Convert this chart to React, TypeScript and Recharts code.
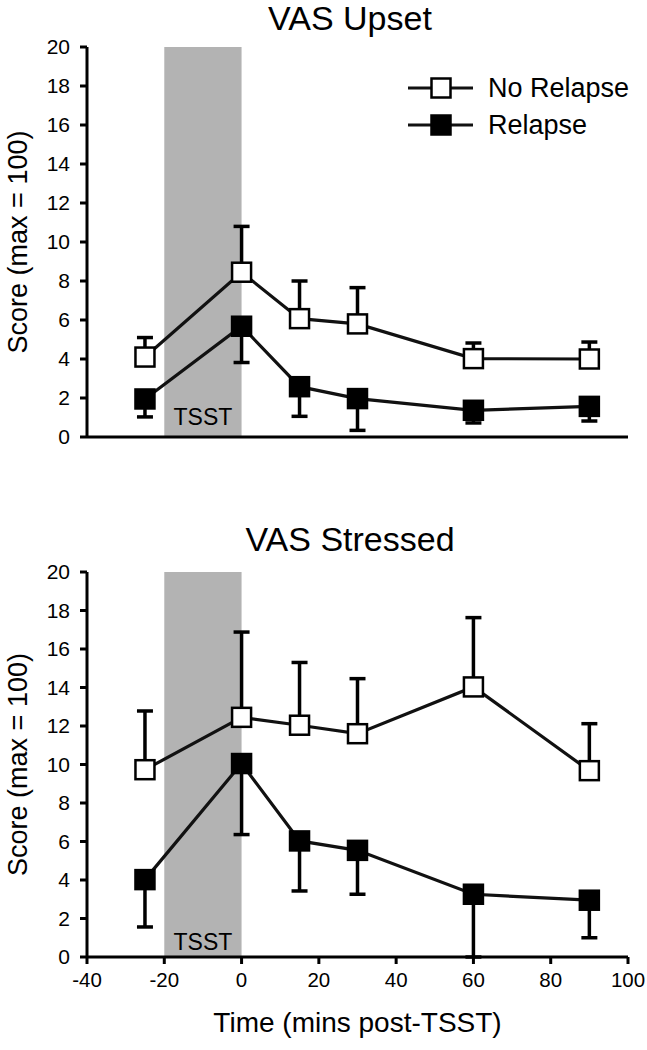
import React from 'react';
import { ComposedChart, Line, XAxis, YAxis, ErrorBar, ReferenceArea, Label, Legend } from 'recharts';

// ---- data ----
const timePoints = [-25, 0, 15, 30, 60, 90];
const xTicks = [-40, -20, 0, 20, 40, 60, 80, 100];
const yTicks = [0, 2, 4, 6, 8, 10, 12, 14, 16, 18, 20];
const seriesNames = ['No Relapse', 'Relapse'];
const seriesFills = ['#ffffff', '#000000'];
const bandStart = -20;
const bandEnd = 0;
const bandLabel = 'TSST';

const upsetNoRelapse = [4.1, 8.45, 6.07, 5.8, 4.02, 4.0];
const upsetNoRelapseErr = [1.0, 2.35, 1.93, 1.86, 0.8, 0.87];
const upsetRelapse = [1.95, 5.68, 2.58, 1.97, 1.37, 1.57];
const upsetRelapseErr = [0.92, 1.86, 1.52, 1.63, 0.65, 0.75];

const stressedNoRelapse = [9.73, 12.45, 12.04, 11.6, 14.03, 9.68];
const stressedNoRelapseErr = [3.05, 4.43, 3.26, 2.86, 3.6, 2.44];
const stressedRelapse = [4.02, 10.05, 6.03, 5.54, 3.26, 2.95];
const stressedRelapseErr = [2.46, 3.69, 2.6, 2.28, 3.26, 1.95];

const buildRows = (nr: number[], nrErr: number[], r: number[], rErr: number[]) =>
  timePoints.map((t, i) => ({
    t,
    nr: nr[i],
    nrErr: [0, nrErr[i]],
    r: r[i],
    rErr: [rErr[i], 0],
  }));

const upsetRows = buildRows(upsetNoRelapse, upsetNoRelapseErr, upsetRelapse, upsetRelapseErr);
const stressedRows = buildRows(stressedNoRelapse, stressedNoRelapseErr, stressedRelapse, stressedRelapseErr);

const FONT = '"Liberation Sans", Arial, sans-serif';

const makeDot = (fill: string) => (props: any) => {
  const { cx, cy, index } = props;
  if (cx == null || cy == null) return <g key={index} />;
  return (
    <rect key={index} x={cx - 9.5} y={cy - 9.5} width={19} height={19} fill={fill} stroke="#000" strokeWidth={2.5} />
  );
};

const LegendContent = (props: any) => {
  const payload = props.payload || [];
  return (
    <div style={{ fontFamily: FONT }}>
      {payload.map((entry: any, i: number) => {
        const idx = seriesNames.indexOf(entry.value);
        return (
          <div key={i} style={{ display: 'flex', alignItems: 'center', height: 37 }}>
            <svg width={66} height={24} style={{ display: 'block' }}>
              <line x1={0} y1={12} x2={65} y2={12} stroke="#111" strokeWidth={3.2} />
              <rect x={23.5} y={2.5} width={19} height={19} fill={seriesFills[idx]} stroke="#000" strokeWidth={2.5} />
            </svg>
            <span style={{ marginLeft: 14, fontSize: 27, color: '#000', lineHeight: 1 }}>{entry.value}</span>
          </div>
        );
      })}
    </div>
  );
};

type PanelProps = {
  rows: any[];
  height: number;
  marginTop: number;
  xAxisHeight: number;
  showXLabels: boolean;
  tsstOffset: number;
  showLegend: boolean;
};

const Panel = ({ rows, height, marginTop, xAxisHeight, showXLabels, tsstOffset, showLegend }: PanelProps) => (
  <ComposedChart
    width={647}
    height={height}
    data={rows}
    margin={{ top: marginTop, right: 19, left: 0, bottom: 0 }}
    style={{ fontFamily: FONT }}
  >
    <ReferenceArea
      x1={bandStart}
      x2={bandEnd}
      y1={0}
      y2={20}
      fill="#b3b3b3"
      fillOpacity={1}
      stroke="none"
      label={(p: any) => {
        const vb = p.viewBox;
        return (
          <text x={vb.x + vb.width / 2} y={vb.y + vb.height - tsstOffset} textAnchor="middle" fontSize={23} fill="#000" fontFamily={FONT}>
            {bandLabel}
          </text>
        );
      }}
    />
    <XAxis
      type="number"
      dataKey="t"
      domain={[-40, 100]}
      ticks={xTicks}
      interval={0}
      height={xAxisHeight}
      axisLine={{ stroke: '#000', strokeWidth: 3 }}
      tickLine={{ stroke: '#000', strokeWidth: 3 }}
      tickSize={7}
      tickMargin={8}
      tick={showXLabels ? { fontSize: 20.5, fill: '#000', fontFamily: FONT } : false}
    >
      {showXLabels && (
        <Label
          content={(p: any) => {
            const vb = p.viewBox;
            return (
              <text x={vb.x + vb.width / 2} y={531.7} textAnchor="middle" fontSize={28} fill="#000" fontFamily={FONT}>
                Time (mins post-TSST)
              </text>
            );
          }}
        />
      )}
    </XAxis>
    <YAxis
      type="number"
      domain={[0, 20]}
      ticks={yTicks}
      interval={0}
      width={87}
      axisLine={{ stroke: '#000', strokeWidth: 3 }}
      tickLine={{ stroke: '#000', strokeWidth: 3 }}
      tickSize={7}
      tickMargin={10}
      tick={{ fontSize: 21, fill: '#000', fontFamily: FONT }}
    >
      <Label
        content={(p: any) => {
          const vb = p.viewBox;
          const cy = vb.y + vb.height / 2;
          return (
            <text x={26.5} y={cy} transform={`rotate(-90, 26.5, ${cy})`} textAnchor="middle" fontSize={27} fill="#000" fontFamily={FONT}>
              Score (max = 100)
            </text>
          );
        }}
      />
    </YAxis>
    {showLegend && (
      <Legend
        layout="vertical"
        align="center"
        verticalAlign="middle"
        wrapperStyle={{ position: 'absolute', left: 408, top: 69.5, width: 239, height: 74 }}
        content={LegendContent}
      />
    )}
    <Line
      name={seriesNames[0]}
      dataKey="nr"
      stroke="#111"
      strokeWidth={3.2}
      dot={makeDot(seriesFills[0])}
      activeDot={false}
      isAnimationActive={false}
    >
      <ErrorBar dataKey="nrErr" width={8} stroke="#000" strokeWidth={3.5} direction="y" isAnimationActive={false} />
    </Line>
    <Line
      name={seriesNames[1]}
      dataKey="r"
      stroke="#111"
      strokeWidth={3.2}
      dot={makeDot(seriesFills[1])}
      activeDot={false}
      isAnimationActive={false}
    >
      <ErrorBar dataKey="rErr" width={8} stroke="#000" strokeWidth={3.5} direction="y" isAnimationActive={false} />
    </Line>
  </ComposedChart>
);

const titleStyle: React.CSSProperties = {
  position: 'absolute',
  left: 53,
  width: 594,
  textAlign: 'center',
  fontFamily: FONT,
  fontSize: 34,
  lineHeight: 1.1,
  color: '#000',
  whiteSpace: 'nowrap',
};

export default function App() {
  return (
    <div style={{ position: 'absolute', left: 0, top: 0, width: 647, height: 1050, background: '#fff', overflow: 'hidden' }}>
      <div style={{ position: 'absolute', left: 0, top: 0 }}>
        <Panel rows={upsetRows} height={500} marginTop={47} xAxisHeight={63} showXLabels={false} tsstOffset={12} showLegend={true} />
      </div>
      <div style={{ position: 'absolute', left: 0, top: 500 }}>
        <Panel rows={stressedRows} height={550} marginTop={72} xAxisHeight={93} showXLabels={true} tsstOffset={7} showLegend={false} />
      </div>
      <div style={{ ...titleStyle, top: 0 }}>VAS Upset</div>
      <div style={{ ...titleStyle, top: 521 }}>VAS Stressed</div>
    </div>
  );
}
